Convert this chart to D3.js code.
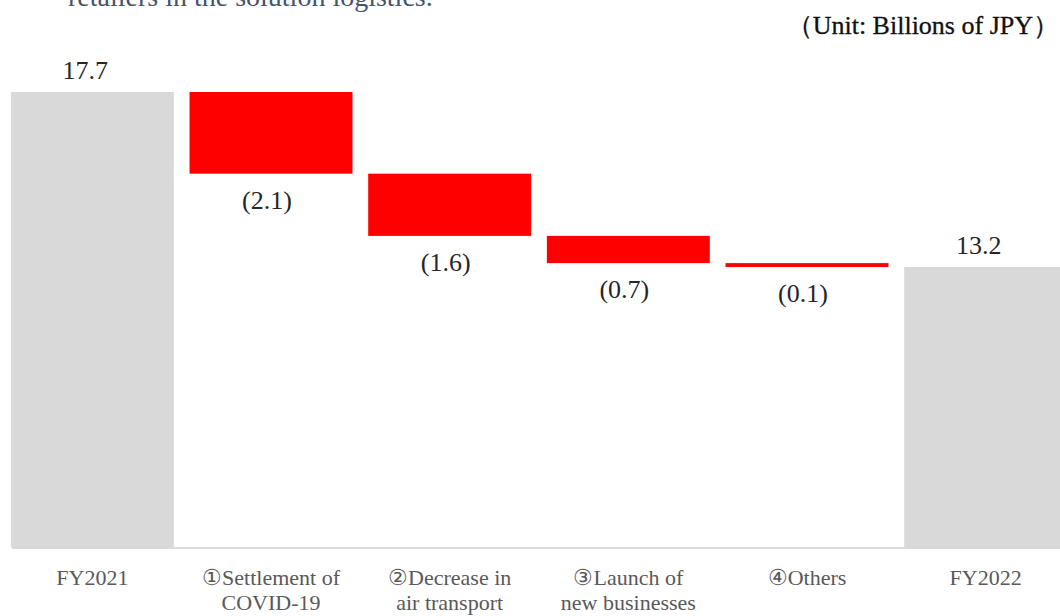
<!DOCTYPE html>
<html>
<head>
<meta charset="utf-8">
<script src="https://cdn.jsdelivr.net/npm/d3@7"></script>
<style>
  body { margin: 0; background: #fff; }
  svg { display: block; }
  text { font-family: "Liberation Serif", "DejaVu Serif", serif; }
</style>
</head>
<body>
<script>
// waterfall: FY2021 -> FY2022
var categories = ["FY2021", "①Settlement of\nCOVID-19", "②Decrease in\nair transport",
                  "③Launch of\nnew businesses", "④Others", "FY2022"];
var values = [17.7, -2.1, -1.6, -0.7, -0.1, 13.2];
var kinds = ["total", "delta", "delta", "delta", "delta", "total"];
var valueLabels = ["17.7", "(2.1)", "(1.6)", "(0.7)", "(0.1)", "13.2"];

var width = 1060,
    height = 616;

var svg = d3.select("body").append("svg")
    .attr("width", width)
    .attr("height", height);

// build start/end for every bar
var running = 0;
var bars = categories.map(function(c, i) {
    var b = {cat: c, kind: kinds[i], label: valueLabels[i]};
    if (kinds[i] == "total") {
        b.y0 = 6; b.y1 = values[i];
        running = values[i];
    } else {
        b.y0 = running + values[i]; b.y1 = running;
        running = running + values[i];
    }
    return b;
});

var x = d3.scaleBand()
    .domain(categories)
    .range([3, 1075])
    .paddingInner(0.088)
    .paddingOuter(0.044);

var y = d3.scaleLinear()
    .domain([6, 17.7])
    .range([547, 92]);

// baseline
svg.append("line")
    .attr("x1", 12).attr("x2", width)
    .attr("y1", y(6) + 1).attr("y2", y(6) + 1)
    .attr("stroke", "#d9d9d9")
    .attr("stroke-width", 2);

svg.selectAll(".bar")
    .data(bars)
    .enter().append("rect")
    .attr("class", "bar")
    .attr("x", function(d) { return x(d.cat); })
    .attr("width", x.bandwidth())
    .attr("y", function(d) { return y(d.y1); })
    .attr("height", function(d) { return Math.max(1, y(d.y0) - y(d.y1)); })
    .attr("fill", function(d) { return d.kind == "total" ? "#d9d9d9" : "#ff0000"; });

svg.selectAll(".vlabel")
    .data(bars)
    .enter().append("text")
    .attr("class", "vlabel")
    .attr("x", function(d) { return x(d.cat) + x.bandwidth() / 2 - (d.kind == "total" ? 7 : 4); })
    .attr("y", function(d) {
        return d.kind == "total" ? y(d.y1) - 13 : y(d.y0) + 35;
    })
    .attr("text-anchor", "middle")
    .attr("font-size", 26)
    .attr("fill", "#262626")
    .text(function(d) { return d.label; });

// category labels (two lines)
var cat = svg.selectAll(".cat")
    .data(bars)
    .enter().append("text")
    .attr("class", "cat")
    .attr("text-anchor", "middle")
    .attr("font-size", 22)
    .attr("fill", "#595959")
    .attr("transform", function(d) { return "translate(" + (x(d.cat) + x.bandwidth() / 2) + ",585)"; });

cat.selectAll("tspan")
    .data(function(d) { return d.cat.split("\n"); })
    .enter().append("tspan")
    .attr("x", 0)
    .attr("dy", function(d, i) { return i ? 25 : 0; })
    .text(function(d) { return d; });

svg.append("text")
    .attr("x", 1059)
    .attr("y", 34)
    .attr("text-anchor", "end")
    .attr("font-size", 26)
    .attr("fill", "#111")
    .attr("stroke", "#111")
    .attr("stroke-width", 0.3)
    .text("（Unit: Billions of JPY）");

// leftover line of page text, cut off at the top
svg.append("text")
    .attr("x", 68)
    .attr("y", 6)
    .attr("font-size", 28)
    .attr("fill", "#44546a")
    .text("retailers in the solution logistics.");
</script>
</body>
</html>
